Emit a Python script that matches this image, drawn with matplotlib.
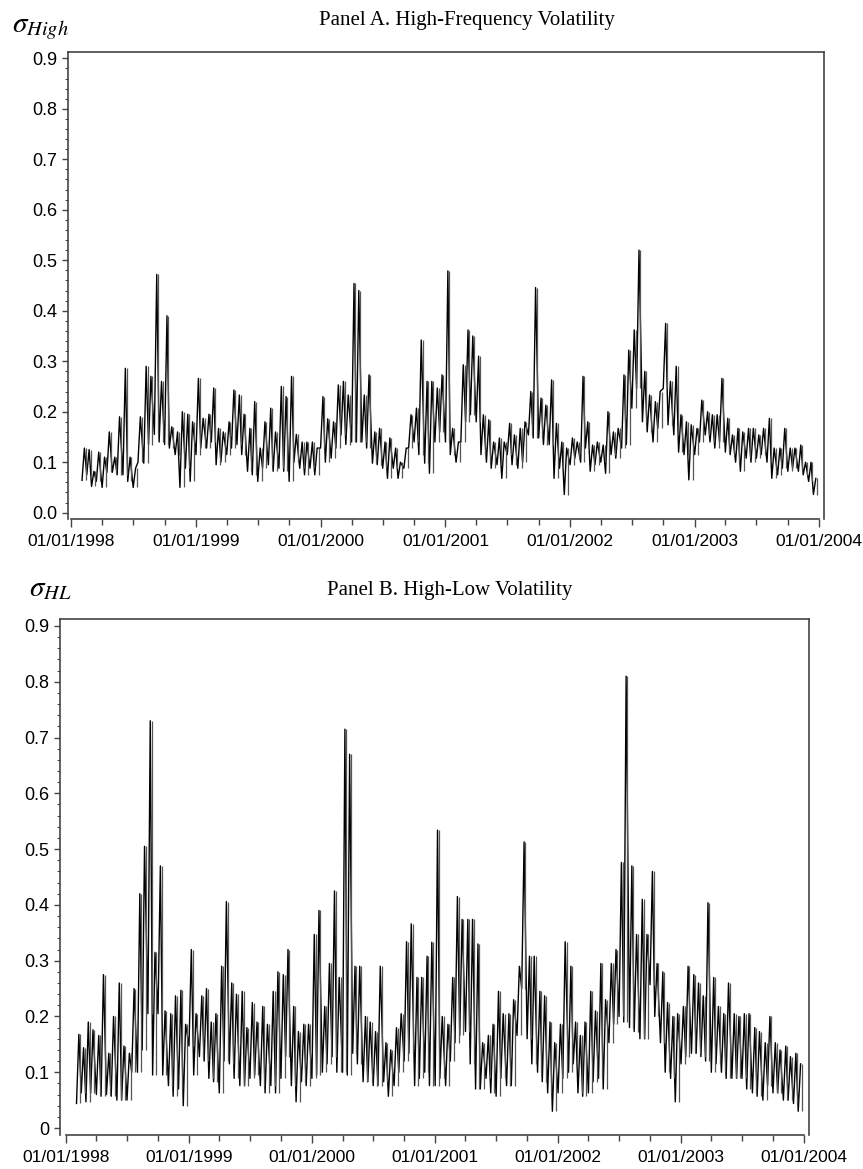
import numpy as np
import pandas as pd
import matplotlib
matplotlib.use("Agg")
import matplotlib.pyplot as plt
import matplotlib.dates as mdates
from matplotlib.ticker import MultipleLocator, FuncFormatter

# half-month periods, Feb 1998 .. Dec 2003; low and high of the daily series in each period
periods = pd.date_range("1998-02-01", periods=142, freq="SMS")

# Panel A: high-frequency volatility
a_lo = [0.064, 0.075, 0.052, 0.062, 0.050, 0.080, 0.080, 0.075, 0.075, 0.062,
        0.050, 0.100, 0.098, 0.135, 0.155, 0.140, 0.135, 0.128, 0.115, 0.050,
        0.088, 0.062, 0.115, 0.128, 0.128, 0.140, 0.095, 0.100, 0.115, 0.128,
        0.135, 0.115, 0.082, 0.075, 0.062, 0.088, 0.095, 0.082, 0.088, 0.082,
        0.062, 0.100, 0.088, 0.075, 0.088, 0.075, 0.128, 0.100, 0.108, 0.128,
        0.154, 0.135, 0.140, 0.140, 0.140, 0.128, 0.098, 0.095, 0.088, 0.068,
        0.088, 0.068, 0.088, 0.128, 0.140, 0.115, 0.098, 0.078, 0.140, 0.160,
        0.140, 0.115, 0.100, 0.140, 0.180, 0.194, 0.180, 0.115, 0.100, 0.088,
        0.095, 0.068, 0.115, 0.095, 0.088, 0.100, 0.154, 0.148, 0.148, 0.135,
        0.135, 0.068, 0.088, 0.036, 0.095, 0.108, 0.100, 0.128, 0.082, 0.095,
        0.100, 0.078, 0.115, 0.108, 0.128, 0.135, 0.207, 0.246, 0.180, 0.160,
        0.140, 0.167, 0.246, 0.174, 0.154, 0.120, 0.115, 0.065, 0.115, 0.140,
        0.154, 0.140, 0.128, 0.140, 0.120, 0.115, 0.100, 0.082, 0.108, 0.100,
        0.108, 0.115, 0.100, 0.068, 0.075, 0.088, 0.082, 0.088, 0.082, 0.075,
        0.062, 0.036]
a_hi = [0.128, 0.125, 0.082, 0.120, 0.110, 0.160, 0.110, 0.190, 0.286, 0.110,
        0.088, 0.190, 0.290, 0.270, 0.472, 0.260, 0.390, 0.170, 0.160, 0.200,
        0.195, 0.180, 0.266, 0.187, 0.195, 0.247, 0.167, 0.160, 0.180, 0.243,
        0.233, 0.195, 0.167, 0.220, 0.128, 0.180, 0.207, 0.160, 0.250, 0.230,
        0.270, 0.155, 0.140, 0.140, 0.140, 0.128, 0.230, 0.186, 0.180, 0.253,
        0.260, 0.233, 0.454, 0.440, 0.233, 0.273, 0.160, 0.167, 0.140, 0.148,
        0.128, 0.100, 0.128, 0.194, 0.207, 0.342, 0.260, 0.260, 0.247, 0.273,
        0.479, 0.167, 0.140, 0.293, 0.362, 0.350, 0.310, 0.194, 0.184, 0.140,
        0.148, 0.140, 0.177, 0.154, 0.167, 0.180, 0.240, 0.446, 0.227, 0.213,
        0.263, 0.177, 0.140, 0.128, 0.148, 0.140, 0.270, 0.180, 0.134, 0.140,
        0.134, 0.200, 0.160, 0.167, 0.273, 0.322, 0.362, 0.520, 0.280, 0.233,
        0.220, 0.240, 0.375, 0.260, 0.290, 0.194, 0.180, 0.174, 0.167, 0.223,
        0.200, 0.194, 0.194, 0.266, 0.187, 0.154, 0.167, 0.160, 0.167, 0.167,
        0.154, 0.167, 0.187, 0.128, 0.128, 0.167, 0.128, 0.128, 0.134, 0.100,
        0.100, 0.068]

# Panel B: high-low volatility
b_lo = [0.044, 0.063, 0.047, 0.063, 0.060, 0.057, 0.060, 0.057, 0.050, 0.050,
        0.050, 0.100, 0.100, 0.140, 0.205, 0.095, 0.205, 0.095, 0.076, 0.057,
        0.070, 0.040, 0.147, 0.095, 0.128, 0.120, 0.089, 0.083, 0.063, 0.120,
        0.115, 0.089, 0.076, 0.076, 0.089, 0.095, 0.076, 0.063, 0.076, 0.063,
        0.089, 0.128, 0.076, 0.047, 0.083, 0.076, 0.089, 0.095, 0.100, 0.115,
        0.128, 0.100, 0.100, 0.095, 0.134, 0.115, 0.083, 0.083, 0.076, 0.076,
        0.083, 0.057, 0.076, 0.100, 0.120, 0.134, 0.076, 0.089, 0.100, 0.076,
        0.076, 0.089, 0.076, 0.120, 0.153, 0.166, 0.173, 0.115, 0.070, 0.070,
        0.089, 0.063, 0.057, 0.089, 0.076, 0.076, 0.166, 0.250, 0.160, 0.115,
        0.100, 0.083, 0.063, 0.030, 0.063, 0.089, 0.100, 0.115, 0.063, 0.057,
        0.063, 0.083, 0.089, 0.070, 0.153, 0.186, 0.200, 0.190, 0.180, 0.173,
        0.160, 0.160, 0.257, 0.200, 0.153, 0.100, 0.089, 0.047, 0.115, 0.128,
        0.134, 0.134, 0.128, 0.120, 0.100, 0.115, 0.100, 0.089, 0.089, 0.089,
        0.089, 0.070, 0.063, 0.057, 0.050, 0.076, 0.063, 0.063, 0.050, 0.050,
        0.044, 0.030]
b_hi = [0.168, 0.144, 0.190, 0.176, 0.166, 0.275, 0.134, 0.200, 0.260, 0.147,
        0.134, 0.250, 0.420, 0.505, 0.730, 0.315, 0.470, 0.210, 0.205, 0.237,
        0.247, 0.186, 0.320, 0.205, 0.237, 0.250, 0.190, 0.205, 0.290, 0.406,
        0.260, 0.240, 0.245, 0.180, 0.225, 0.190, 0.218, 0.186, 0.245, 0.280,
        0.275, 0.320, 0.218, 0.173, 0.186, 0.186, 0.347, 0.390, 0.218, 0.295,
        0.425, 0.270, 0.715, 0.670, 0.290, 0.290, 0.200, 0.190, 0.173, 0.290,
        0.153, 0.140, 0.180, 0.205, 0.334, 0.366, 0.270, 0.270, 0.308, 0.333,
        0.534, 0.200, 0.186, 0.270, 0.415, 0.374, 0.374, 0.374, 0.330, 0.153,
        0.166, 0.186, 0.245, 0.205, 0.205, 0.230, 0.290, 0.513, 0.308, 0.308,
        0.245, 0.237, 0.190, 0.153, 0.186, 0.334, 0.290, 0.190, 0.166, 0.190,
        0.245, 0.210, 0.295, 0.230, 0.295, 0.320, 0.476, 0.810, 0.470, 0.347,
        0.410, 0.347, 0.460, 0.295, 0.280, 0.225, 0.200, 0.205, 0.218, 0.290,
        0.275, 0.260, 0.237, 0.404, 0.270, 0.218, 0.205, 0.260, 0.205, 0.200,
        0.205, 0.205, 0.180, 0.173, 0.153, 0.200, 0.153, 0.140, 0.147, 0.128,
        0.134, 0.115]

plt.rcParams["font.family"] = ["Liberation Sans", "DejaVu Sans"]
plt.rcParams["mathtext.fontset"] = "stix"

W, H = 863, 1169
fig = plt.figure(figsize=(W / 100, H / 100), dpi=100)


def zigzag(lo, hi):
    # each period: low at its start, high a week later
    xs, ys = [], []
    for d, l, h in zip(periods, lo, hi):
        xs += [d, d + pd.Timedelta(days=7)]
        ys += [l, h]
    return xs, ys


def panel(box, lo, hi, xlim, zero_label):
    l, t, r, b = box
    ax = fig.add_axes([l / W, 1 - b / H, (r - l) / W, (b - t) / H])
    xs, ys = zigzag(lo, hi)
    ax.plot(xs, ys, color="black", lw=1.0)
    # period ranges as thin high-low bars, darkens the band like the daily trace
    ax.vlines(periods + pd.Timedelta(days=11), lo, hi, color="#555555", lw=0.9)
    ax.set_xlim(pd.Timestamp(xlim[0]), pd.Timestamp(xlim[1]))
    ax.set_ylim(-0.0125, 0.9125)
    ax.yaxis.set_major_locator(MultipleLocator(0.1))
    ax.yaxis.set_minor_locator(MultipleLocator(0.02))
    ax.yaxis.set_major_formatter(FuncFormatter(
        lambda v, p: zero_label if abs(v) < 1e-9 else "%.1f" % v))
    ax.xaxis.set_major_locator(mdates.YearLocator())
    ax.xaxis.set_minor_locator(mdates.MonthLocator((4, 7, 10)))
    ax.xaxis.set_major_formatter(mdates.DateFormatter("%m/%d/%Y"))
    ax.spines["bottom"].set_bounds(mdates.date2num(pd.Timestamp("1998-01-01")),
                                   mdates.date2num(pd.Timestamp("2004-01-01")))
    for s in ax.spines.values():
        s.set_color("#444444")
        s.set_linewidth(1.2)
    ax.tick_params(axis="y", which="major", length=4.5, width=1, color="#444444",
                   labelsize=13, pad=3)
    ax.tick_params(axis="y", which="minor", length=2.5, width=0.8, color="#444444")
    ax.tick_params(axis="x", which="major", length=6, width=1, color="#444444",
                   labelsize=12.5, pad=5)
    ax.tick_params(axis="x", which="minor", length=4, width=1, color="#444444")
    return ax


panel((68, 52, 824, 519), a_lo, a_hi, ("1997-12-22", "2004-01-15"), "0.0")
panel((60, 619, 809, 1135), b_lo, b_hi, ("1997-12-14", "2004-01-16"), "0")

fig.text(467 / W, 1 - 20 / H, "Panel A. High-Frequency Volatility",
         family="Liberation Serif", fontsize=15, ha="center", va="center")
fig.text(450 / W, 1 - 590 / H, "Panel B. High-Low Volatility",
         family="Liberation Serif", fontsize=15, ha="center", va="center")
fig.text(12 / W, 1 - 28 / H, r"$\sigma_{High}$", fontsize=21, ha="left", va="center")
fig.text(29 / W, 1 - 588 / H, r"$\sigma_{HL}$", fontsize=21, ha="left", va="center")

fig.savefig("out.png", dpi=100)
